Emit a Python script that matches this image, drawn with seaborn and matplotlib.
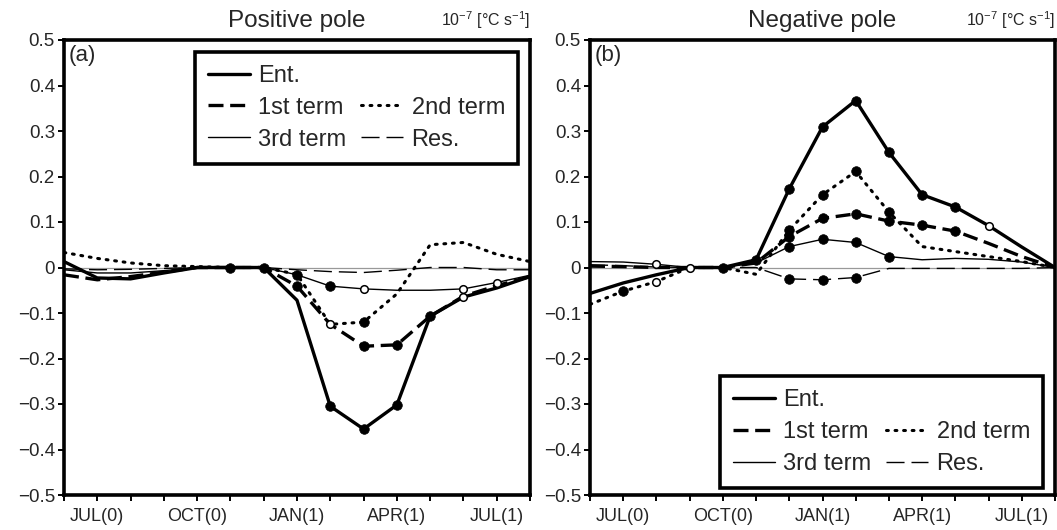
import numpy as np
import pandas as pd
import matplotlib
matplotlib.use("Agg")
import matplotlib.pyplot as plt
from matplotlib.lines import Line2D
import seaborn as sns

# ---------------- data ----------------
months = list(range(15))  # JUN(0) ... AUG(1)
month_tick_pos = [1, 4, 7, 10, 13]
month_tick_labels = ["JUL(0)", "OCT(0)", "JAN(1)", "APR(1)", "JUL(1)"]
y_ticks = [-0.5, -0.4, -0.3, -0.2, -0.1, 0.0, 0.1, 0.2, 0.3, 0.4, 0.5]
y_tick_labels = ["\u22120.5", "\u22120.4", "\u22120.3", "\u22120.2", "\u22120.1", "0",
                 "0.1", "0.2", "0.3", "0.4", "0.5"]
series_names = ["Ent.", "1st term", "2nd term", "3rd term", "Res."]

# Panel (a) Positive pole
ent_a = [0.013, -0.023, -0.025, -0.012, 0.0, 0.0, 0.0, -0.072, -0.305, -0.355, -0.302, -0.107, -0.065, -0.045, -0.02]
first_a = [-0.016, -0.027, -0.02, -0.01, 0.0, 0.0, 0.0, -0.041, -0.125, -0.173, -0.17, -0.107, -0.063, -0.04, -0.02]
second_a = [0.033, 0.02, 0.01, 0.004, 0.002, 0.0, 0.0, -0.015, -0.125, -0.12, -0.058, 0.05, 0.055, 0.029, 0.013]
third_a = [-0.005, -0.012, -0.012, -0.007, 0.0, 0.0, 0.0, -0.016, -0.041, -0.047, -0.05, -0.05, -0.047, -0.033, -0.017]
res_a = [-0.003, -0.005, -0.004, -0.002, 0.0, 0.0, 0.0, -0.005, -0.009, -0.011, -0.006, 0.0, 0.0, -0.005, -0.005]

# Panel (b) Negative pole
ent_b = [-0.057, -0.034, -0.016, 0.0, 0.0, 0.017, 0.173, 0.309, 0.367, 0.253, 0.16, 0.133, 0.092, 0.045, 0.0]
first_b = [0.003, 0.002, 0.0, 0.0, 0.0, 0.01, 0.068, 0.108, 0.118, 0.102, 0.093, 0.08, 0.053, 0.024, 0.0]
second_b = [-0.081, -0.052, -0.031, 0.0, 0.0, -0.015, 0.082, 0.16, 0.211, 0.122, 0.046, 0.035, 0.024, 0.013, 0.0]
third_b = [0.013, 0.012, 0.007, 0.0, 0.0, 0.01, 0.046, 0.062, 0.055, 0.024, 0.017, 0.02, 0.018, 0.012, 0.0]
res_b = [0.006, 0.004, 0.001, 0.0, 0.0, 0.0, -0.025, -0.027, -0.022, -0.002, -0.002, -0.002, -0.002, -0.002, 0.0]

# significance markers (month indices): filled / open
filled_a = {"Ent.": [5, 6, 8, 9, 10, 11], "1st term": [7, 9, 10], "2nd term": [9],
            "3rd term": [7, 8], "Res.": []}
open_a = {"Ent.": [12], "1st term": [], "2nd term": [8], "3rd term": [9, 12, 13], "Res.": []}
filled_b = {"Ent.": [4, 5, 6, 7, 8, 9, 10, 11], "1st term": [6, 7, 8, 9, 10, 11],
            "2nd term": [1, 6, 7, 8, 9], "3rd term": [6, 7, 8, 9], "Res.": [6, 7, 8]}
open_b = {"Ent.": [3, 12], "1st term": [], "2nd term": [2], "3rd term": [2], "Res.": []}

panel_a = dict(zip(series_names, [ent_a, first_a, second_a, third_a, res_a]))
panel_b = dict(zip(series_names, [ent_b, first_b, second_b, third_b, res_b]))

# ---------------- style ----------------
sns.set_theme(style="ticks")
plt.rcParams["font.family"] = ["Liberation Sans", "DejaVu Sans"]
plt.rcParams["mathtext.fontset"] = "custom"
plt.rcParams["mathtext.rm"] = "Liberation Sans"
plt.rcParams["mathtext.it"] = "Liberation Sans"

line_styles = {
    "Ent.": dict(lw=2.4, dashes=None),
    "1st term": dict(lw=2.4, dashes=(4.5, 2.0)),
    "2nd term": dict(lw=2.2, dashes=(0.6, 2.2)),
    "3rd term": dict(lw=1.0, dashes=None),
    "Res.": dict(lw=1.0, dashes=(13, 5)),
}


def make_line(ax, name, yvals):
    df = pd.DataFrame({"month": months, "value": yvals})
    st = line_styles[name]
    sns.lineplot(data=df, x="month", y="value", ax=ax, color="black", lw=st["lw"],
                 zorder=3)
    ln = ax.get_lines()[-1]
    if st["dashes"] is not None:
        ln.set_dashes(st["dashes"])
    if name == "2nd term":
        ln.set_dash_capstyle("round")
    return ln


def legend_handle(name):
    st = line_styles[name]
    h = Line2D([0], [0], color="black", lw=st["lw"])
    if st["dashes"] is not None:
        h.set_dashes(st["dashes"])
    if name == "2nd term":
        h.set_dash_capstyle("round")
    return h


fig = plt.figure(figsize=(10.57, 5.30), dpi=100)
W, H = 1057, 530
ax_a = fig.add_axes([64 / W, 1 - 495 / H, 466 / W, 455 / H])
ax_b = fig.add_axes([590 / W, 1 - 495 / H, 465 / W, 455 / H])

for ax, data, filled, opened, title, tag in [
    (ax_a, panel_a, filled_a, open_a, "Positive pole", "(a)"),
    (ax_b, panel_b, filled_b, open_b, "Negative pole", "(b)"),
]:
    ax.axhline(0, color="0.6", lw=0.9, zorder=1)
    for name in series_names:
        make_line(ax, name, data[name])
    for name in series_names:
        fx = filled[name]
        if fx:
            sns.scatterplot(x=fx, y=[data[name][i] for i in fx], ax=ax, color="black",
                            s=48, edgecolor="black", linewidth=0.5, zorder=5, legend=False)
        ox = opened[name]
        if ox:
            sns.scatterplot(x=ox, y=[data[name][i] for i in ox], ax=ax, facecolor="white",
                            s=30, edgecolor="black", linewidth=1.1, zorder=6, legend=False)

    ax.set_xlim(0, 14)
    ax.set_ylim(-0.5, 0.5)
    ax.set_xticks(months, minor=True)
    ax.set_xticks(month_tick_pos)
    ax.set_xticklabels(month_tick_labels, fontsize=13)
    ax.set_yticks(y_ticks)
    ax.set_yticklabels(y_tick_labels, fontsize=13.5)
    ax.tick_params(axis="both", which="both", direction="out", length=4.5, width=1.4,
                   color="black", pad=2, top=False, right=False)
    ax.tick_params(axis="x", which="major", pad=5)
    ax.set_xlabel("")
    ax.set_ylabel("")
    for sp in ax.spines.values():
        sp.set_visible(True)
        sp.set_linewidth(2.6)
        sp.set_color("black")
    ax.set_title(title, fontsize=17.5, pad=9)
    ax.text(0.01, 0.988, tag, transform=ax.transAxes, ha="left", va="top", fontsize=16)
    ax.text(1.0, 1.02, "10$^{-7}$ [°C s$^{-1}$]", transform=ax.transAxes, ha="right",
            va="bottom", fontsize=11.5)

    handles = [legend_handle("Ent."), legend_handle("1st term"), legend_handle("3rd term"),
               Line2D([0], [0], color="none"), legend_handle("2nd term"), legend_handle("Res.")]
    labels = ["Ent.", "1st term", "3rd term", "", "2nd term", "Res."]
    if ax is ax_a:
        loc, anchor = "upper right", (0.974, 0.974)
    else:
        loc, anchor = "lower right", (0.974, 0.0154)
    leg = ax.legend(handles, labels, ncol=2, loc=loc, bbox_to_anchor=anchor,
                    borderaxespad=0, fontsize=17, frameon=True, fancybox=False,
                    framealpha=1, edgecolor="black", handlelength=1.8, handletextpad=0.35,
                    columnspacing=0.6, labelspacing=0.42, borderpad=0.55)
    leg.get_frame().set_linewidth(2.6)
    leg.set_zorder(10)

fig.savefig("out.png", dpi=100)
